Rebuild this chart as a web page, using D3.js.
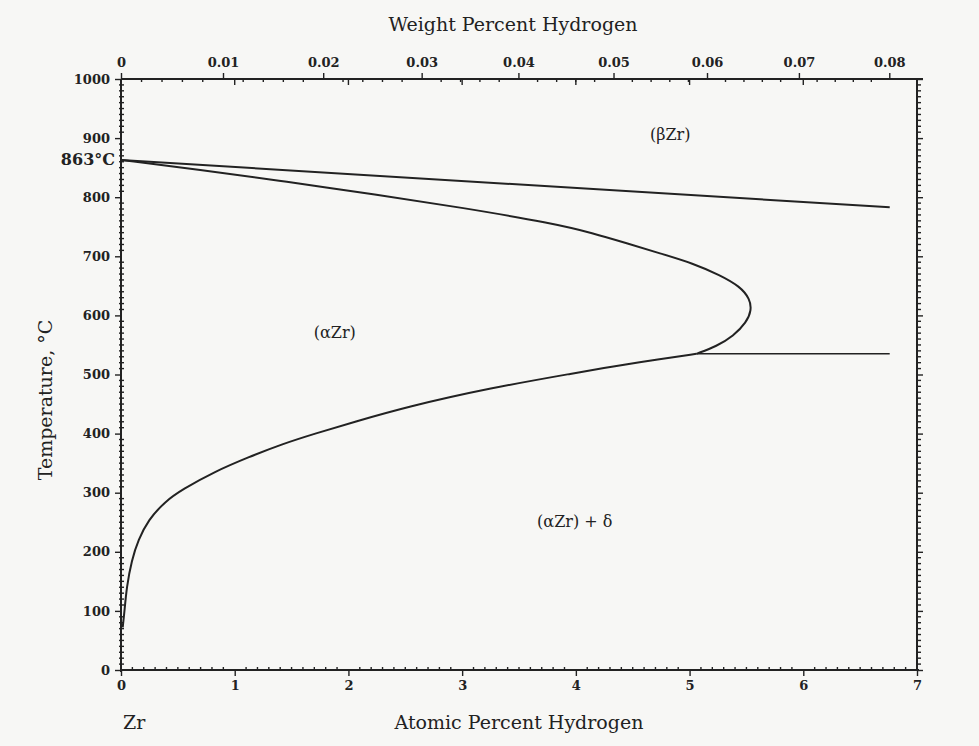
<!DOCTYPE html>
<html>
<head>
<meta charset="utf-8">
<script src="https://cdn.jsdelivr.net/npm/d3@7"></script>
<style>
  html, body { margin: 0; padding: 0; background: #f7f7f5; }
  svg { display: block; }
  .tick text { font-family: "DejaVu Serif", serif; font-weight: bold; font-size: 13px; fill: #222; }
  .title { font-family: "DejaVu Serif", serif; font-size: 19px; fill: #222; }
  .region { font-family: "DejaVu Serif", serif; font-size: 16px; fill: #222; }
</style>
</head>
<body>
<svg id="chart" width="979" height="746"></svg>
<script>
// Zr–H phase diagram (zirconium-rich end)

// axis tick values
const atomicTicks = [0, 1, 2, 3, 4, 5, 6, 7];
const weightTicks = [0, 0.01, 0.02, 0.03, 0.04, 0.05, 0.06, 0.07, 0.08];
const tempTicks = [0, 100, 200, 300, 400, 500, 600, 700, 800, 900, 1000];

// phase boundaries: [atomic % H, temperature °C]
const betaTransus = [[0, 863], [6.76, 783]];
const alphaSolvusUpper = [
  [0, 863], [0.68, 847], [1.46, 826], [2.23, 805], [3.01, 782], [3.79, 756],
  [4.154, 739], [4.447, 722], [4.74, 705], [5.033, 688], [5.268, 668], [5.444, 649],
  [5.53, 628], [5.545, 609], [5.50, 588], [5.385, 565], [5.24, 548], [5.06, 535]
];
const alphaSolvusLower = [
  [5.06, 535], [4.74, 526], [4.30, 513], [4.04, 504], [3.24, 477], [2.51, 445],
  [2.058, 420], [1.706, 400], [1.413, 382], [1.12, 360], [0.827, 336], [0.534, 305],
  [0.387, 285], [0.24, 254], [0.152, 220], [0.094, 186], [0.05, 141], [0.029, 96],
  [0.015, 72]
];
const eutectoid = [[5.06, 535], [6.76, 535]];

// region labels: [atomic %, temperature, text]
const regionLabels = [
  [4.83, 906, "(βZr)"],
  [1.88, 570, "(αZr)"],
  [3.99, 250, "(αZr) + δ"]
];
const transusLabel = "863°C";
const transusTemp = 863;

const svg = d3.select("#chart");
const x = d3.scaleLinear().domain([0, 7]).range([121, 917]);
const y = d3.scaleLinear().domain([0, 1000]).range([670, 79]);

// weight % -> atomic % for hydrogen in zirconium
const M_H = 1.008, M_ZR = 91.224;
const atFromWt = w => (w / M_H) / (w / M_H + (100 - w) / M_ZR) * 100;
const wtSteps = d3.range(0, 81).map(i => i / 1000);
const xw = d3.scaleLinear().domain(wtSteps).range(wtSteps.map(w => x(atFromWt(w))));

const ink = "#222";
const g = svg.append("g");

// bottom axis: atomic percent
const axBottom = g.append("g").attr("transform", `translate(0,${y(0)})`)
  .call(d3.axisBottom(x).tickValues(atomicTicks).tickSize(6).tickPadding(5).tickFormat(d3.format("d")));
axBottom.append("g").selectAll("line")
  .data(d3.range(0, 71).map(i => i / 10).filter(v => Math.abs(v - Math.round(v)) > 1e-9))
  .join("line").attr("x1", d => x(d)).attr("x2", d => x(d)).attr("y1", 0).attr("y2", -3);

// top axis: weight percent (wt% ticks up, at% ticks down)
const axTop = g.append("g").attr("transform", `translate(0,${y(1000)})`)
  .call(d3.axisTop(xw).tickValues(weightTicks).tickSize(6).tickPadding(6)
    .tickFormat(d => d === 0 ? "0" : d3.format(".2f")(d)));
axTop.append("g").selectAll("line")
  .data(wtSteps.filter((w, i) => i % 10 !== 0 && i % 2 === 0))
  .join("line").attr("x1", d => xw(d)).attr("x2", d => xw(d)).attr("y1", 0).attr("y2", 3);
axTop.append("g").selectAll("line")
  .data(atomicTicks.slice(1, 7))
  .join("line").attr("x1", d => x(d)).attr("x2", d => x(d)).attr("y1", 0).attr("y2", 6);

// left axis: temperature
const axLeft = g.append("g").attr("transform", `translate(${x(0)},0)`)
  .call(d3.axisLeft(y).tickValues(tempTicks).tickSize(6).tickPadding(5).tickFormat(d3.format("d")));
axLeft.append("g").selectAll("line")
  .data(d3.range(0, 1001, 10).filter(v => v % 100 !== 0))
  .join("line").attr("x1", -2).attr("x2", 3).attr("y1", d => y(d)).attr("y2", d => y(d));

// right axis
const axRight = g.append("g").attr("transform", `translate(${x(7)},0)`)
  .call(d3.axisRight(y).tickValues(tempTicks).tickSize(6).tickFormat(""));
axRight.append("g").selectAll("line")
  .data(d3.range(0, 1001, 10).filter(v => v % 100 !== 0))
  .join("line").attr("x1", 0).attr("x2", 4).attr("y1", d => y(d)).attr("y2", d => y(d));

g.selectAll(".domain").attr("stroke", ink).attr("stroke-width", 2);
g.selectAll("line").attr("stroke", ink).attr("stroke-width", 1.4);
// top edge runs slightly past the right axis
axTop.select(".domain").attr("d", `M${x(0)},0H${x(7) + 6}`);
axBottom.select(".domain").attr("d", `M${x(0)},0H${x(7) + 2}`);
axLeft.select(".domain").attr("d", `M0,${y(0) + 2}V${y(1000)}`);
axRight.select(".domain").attr("d", `M0,${y(0)}V${y(1000)}`);

// phase boundary curves (B-spline through the read-off points)
const line = d3.line().x(d => x(d[0])).y(d => y(d[1]));
const smooth = d3.line().x(d => x(d[0])).y(d => y(d[1])).curve(d3.curveBasis);
const curves = svg.append("g").attr("fill", "none").attr("stroke", ink).attr("stroke-width", 2);
curves.append("path").attr("d", line(betaTransus));
curves.append("path").attr("d", smooth(alphaSolvusUpper));
curves.append("path").attr("d", smooth(alphaSolvusLower));
curves.append("path").attr("stroke-width", 1.6).attr("d", line(eutectoid));

// labels
svg.append("text").attr("class", "region").attr("font-weight", "bold").attr("font-size", 13)
  .attr("x", 115).attr("y", y(transusTemp) + 5).attr("text-anchor", "end").text(transusLabel);
svg.selectAll(".regionLabel").data(regionLabels).join("text").attr("class", "region")
  .attr("x", d => x(d[0])).attr("y", d => y(d[1]) + 5).attr("text-anchor", "middle").text(d => d[2]);

svg.append("text").attr("class", "title").attr("x", 513).attr("y", 31)
  .attr("text-anchor", "middle").text("Weight Percent Hydrogen");
svg.append("text").attr("class", "title").attr("x", 519).attr("y", 729)
  .attr("text-anchor", "middle").text("Atomic Percent Hydrogen");
svg.append("text").attr("class", "title").attr("x", 123).attr("y", 729).text("Zr");
svg.append("text").attr("class", "title").attr("font-size", 23)
  .attr("transform", "translate(52,400) rotate(-90)")
  .attr("text-anchor", "middle").text("Temperature, °C");
</script>
</body>
</html>
